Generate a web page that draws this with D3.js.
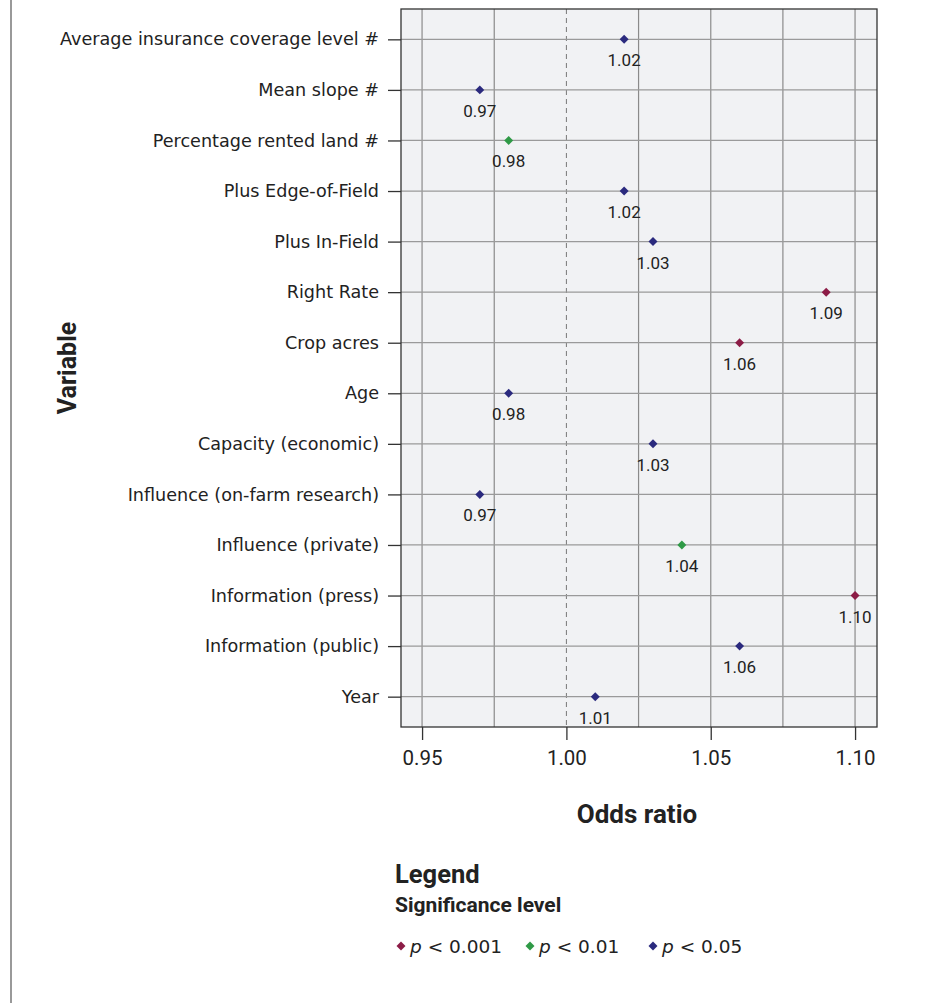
<!DOCTYPE html>
<html>
<head>
<meta charset="utf-8">
<script src="https://d3js.org/d3.v7.min.js"></script>
<style>
  body { margin: 0; background: #fff; }
  text { font-family: Roboto, "Liberation Sans", sans-serif; fill: #222; }
</style>
</head>
<body>
<script>
var width = 928;
var height = 1003;

var variables = [
  "Average insurance coverage level #", "Mean slope #", "Percentage rented land #",
  "Plus Edge-of-Field", "Plus In-Field", "Right Rate", "Crop acres", "Age",
  "Capacity (economic)", "Influence (on-farm research)", "Influence (private)",
  "Information (press)", "Information (public)", "Year"
];
var oddsRatios = [1.02, 0.97, 0.98, 1.02, 1.03, 1.09, 1.06, 0.98, 1.03, 0.97, 1.04, 1.10, 1.06, 1.01];
var significance = ["p < 0.05", "p < 0.05", "p < 0.01", "p < 0.05", "p < 0.05", "p < 0.001", "p < 0.001",
  "p < 0.05", "p < 0.05", "p < 0.05", "p < 0.01", "p < 0.001", "p < 0.05", "p < 0.05"];
var levels = ["p < 0.001", "p < 0.01", "p < 0.05"];
var levelColors = ["#8c1c46", "#2f9a46", "#2b2a7e"];
var xTicks = [0.95, 1.00, 1.05, 1.10];
var xMinor = [0.975, 1.025, 1.075];

var data = variables.map(function (v, i) {
  return { name: v, value: oddsRatios[i], sig: significance[i] };
});

var panel = { left: 401, right: 877, top: 9, bottom: 727 };

var x = d3.scaleLinear().domain([0.9427, 1.1076]).range([panel.left, panel.right]);
var y = d3.scalePoint().domain(variables).range([panel.top, panel.bottom]).padding(0.6);
var color = d3.scaleOrdinal().domain(levels).range(levelColors);
var diamond = d3.symbol().type(d3.symbolSquare).size(40);

var svg = d3.select("body").append("svg")
  .attr("width", width)
  .attr("height", height);

// page frame line on the left
svg.append("line")
  .attr("x1", 11).attr("x2", 11).attr("y1", 0).attr("y2", height)
  .style("stroke", "#999").style("stroke-width", 2);

// panel background
svg.append("rect")
  .attr("x", panel.left).attr("y", panel.top)
  .attr("width", panel.right - panel.left).attr("height", panel.bottom - panel.top)
  .style("fill", "#f1f2f4");

// grid
svg.selectAll(".vminor").data(xMinor).enter().append("line")
  .attr("x1", function (d) { return x(d); }).attr("x2", function (d) { return x(d); })
  .attr("y1", panel.top).attr("y2", panel.bottom)
  .style("stroke", "#8a8a8a").style("stroke-width", 1.2);

svg.selectAll(".vmajor").data(xTicks).enter().append("line")
  .attr("x1", function (d) { return x(d); }).attr("x2", function (d) { return x(d); })
  .attr("y1", panel.top).attr("y2", panel.bottom)
  .style("stroke", function (d) { return d === 1.00 ? "#777" : "#9a9a9a"; })
  .style("stroke-width", function (d) { return d === 1.00 ? 1 : 1.4; })
  .style("stroke-dasharray", function (d) { return d === 1.00 ? "5,4" : null; });

svg.selectAll(".hgrid").data(variables).enter().append("line")
  .attr("x1", panel.left).attr("x2", panel.right)
  .attr("y1", function (d) { return y(d); }).attr("y2", function (d) { return y(d); })
  .style("stroke", "#9a9a9a").style("stroke-width", 1.2);

// panel border
svg.append("rect")
  .attr("x", panel.left).attr("y", panel.top)
  .attr("width", panel.right - panel.left).attr("height", panel.bottom - panel.top)
  .style("fill", "none").style("stroke", "#333").style("stroke-width", 1.3);

// y axis
var yAxis = svg.append("g")
  .attr("transform", "translate(" + panel.left + ",0)")
  .call(d3.axisLeft(y).tickSize(13).tickPadding(9));
yAxis.select(".domain").remove();
yAxis.selectAll(".tick line").style("stroke", "#333").style("stroke-width", 1.3);
yAxis.selectAll(".tick text")
  .style("font-size", "17.6px").style("fill", "#222")
  .style("font-family", "\"DejaVu Sans\", sans-serif");

// x axis
var xAxis = svg.append("g")
  .attr("transform", "translate(0," + panel.bottom + ")")
  .call(d3.axisBottom(x).tickValues(xTicks).tickFormat(d3.format(".2f")).tickSize(13).tickPadding(10));
xAxis.select(".domain").remove();
xAxis.selectAll(".tick line").style("stroke", "#333").style("stroke-width", 1.3);
xAxis.selectAll(".tick text")
  .style("font-size", "20.5px").style("fill", "#222")
  .style("font-family", "Roboto, sans-serif");

// points
svg.selectAll(".point").data(data).enter().append("path")
  .attr("class", "point")
  .attr("d", diamond)
  .attr("transform", function (d) { return "translate(" + x(d.value) + "," + y(d.name) + ") rotate(45)"; })
  .style("fill", function (d) { return color(d.sig); });

svg.selectAll(".vlabel").data(data).enter().append("text")
  .attr("x", function (d) { return x(d.value); })
  .attr("y", function (d) { return y(d.name) + 27; })
  .attr("text-anchor", "middle")
  .style("font-size", "17px")
  .text(function (d) { return d3.format(".2f")(d.value); });

// axis titles
svg.append("text")
  .attr("x", 637).attr("y", 823)
  .attr("text-anchor", "middle")
  .style("font-size", "26px").style("font-weight", "bold")
  .text("Odds ratio");

svg.append("text")
  .attr("transform", "translate(76," + ((panel.top + panel.bottom) / 2) + ") rotate(-90)")
  .attr("text-anchor", "middle")
  .style("font-size", "25px").style("font-weight", "bold")
  .text("Variable");

// legend
svg.append("text")
  .attr("x", 395).attr("y", 883)
  .style("font-size", "25.5px").style("font-weight", "bold")
  .text("Legend");
svg.append("text")
  .attr("x", 395).attr("y", 912)
  .style("font-size", "21px").style("font-weight", "bold")
  .text("Significance level");

var legendX = [401, 530, 653];
var items = svg.selectAll(".legitem").data(levels).enter().append("g")
  .attr("transform", function (d, i) { return "translate(" + legendX[i] + ",946)"; });
items.append("path")
  .attr("d", diamond)
  .attr("transform", "rotate(45)")
  .style("fill", function (d) { return color(d); });
var lt = items.append("text")
  .attr("x", 9).attr("y", 7)
  .style("font-size", "18.5px")
  .style("font-family", "\"DejaVu Sans\", sans-serif");
lt.append("tspan").style("font-style", "italic").text("p");
lt.append("tspan").text(function (d) { return d.slice(1); });
</script>
</body>
</html>
